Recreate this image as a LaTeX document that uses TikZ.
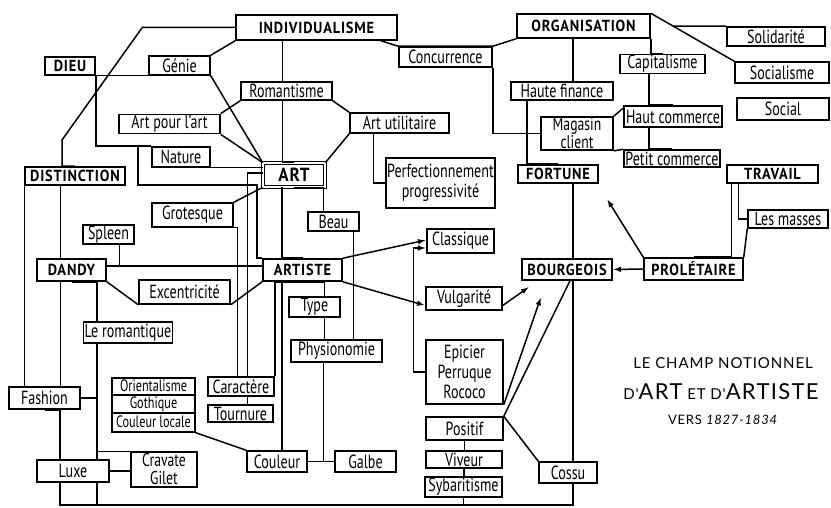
\documentclass[tikz,border=0pt]{standalone}
\usepackage{fontspec}
\setmainfont{PT Sans}[FakeStretch=0.74]
\newfontfamily\capsfont{PT Sans}[FakeStretch=0.9,LetterSpace=5,UprightFont=*,BoldFont=* Bold]
\newfontfamily\titlefont{Lato}[LetterSpace=6]
\usetikzlibrary{arrows,calc}
\tikzstyle{bx}=[draw=black,line width=1.5pt,inner sep=1pt,minimum height=19pt,
  align=center,font=\fontsize{19}{20}\selectfont]
\tikzstyle{small}=[font=\fontsize{18.5}{18}\selectfont]
\tikzstyle{stack}=[style=bx,inner ysep=0.5pt,font=\fontsize{16.5}{17}\selectfont,text height=12pt,text depth=3pt]
\tikzstyle{bigbx}=[style=bx,font=\capsfont\bfseries\fontsize{16}{16}\selectfont]
\tikzstyle{artbx}=[style=bigbx,double,double distance=1.6pt,line width=0.9pt,
  font=\capsfont\bfseries\fontsize{19}{19}\selectfont]
\tikzstyle{ttl}=[inner sep=0pt,font=\titlefont\fontsize{15}{15}\selectfont]
\tikzstyle{arw}=[-latex,shorten >=1pt]

\begin{document}
\begin{tikzpicture}[x=1pt,y=-1pt,line width=1.5pt]
		\useasboundingbox (0,0) rectangle (831,508);
		\node [style=bigbx, minimum width=161, minimum height=25] (indiv) at (316.5, 27.5) {INDIVIDUALISME};
		\node [style=bigbx, minimum width=133, minimum height=24] (org) at (583.5, 26) {ORGANISATION};
		\node [style=bx, minimum width=98] (solid) at (776, 36.5) {Solidarité};
		\node [style=bx, minimum width=94, minimum height=21] (socia) at (782, 72.5) {Socialisme};
		\node [style=bx, minimum width=92, minimum height=22] (social) at (783, 109) {Social};
		\node [style=bx, minimum width=85, minimum height=18] (capit) at (662.5, 64) {Capitalisme};
		\node [style=bx, minimum width=98, minimum height=21] (hautc) at (673, 116.5) {Haut commerce};
		\node [style=bx, minimum width=96, minimum height=17] (petitc) at (672, 158.5) {Petit commerce};
		\node [style=bx, minimum width=102, minimum height=18] (hautef) at (562, 91) {Haute finance};
		\node [style=bx, style=small, minimum width=72, minimum height=33] (magasin) at (577, 133.5) {Magasin\\client};
		\node [style=bx, minimum width=93, minimum height=20] (conc) at (445.5, 57) {Concurrence};
		\node [style=bigbx, minimum width=80, minimum height=18] (fortune) at (558, 174) {FORTUNE};
		\node [style=bigbx, minimum width=90, minimum height=21] (bourg) at (567, 269.5) {BOURGEOIS};
		\node [style=bigbx, minimum width=99, minimum height=22] (prol) at (693.5, 269) {PROLÉTAIRE};
		\node [style=bigbx, minimum width=91, minimum height=18] (travail) at (772.5, 174) {TRAVAIL};
		\node [style=bx, minimum width=80, minimum height=18] (masses) at (788, 219) {Les masses};
		\node [style=bigbx, minimum width=50, minimum height=18] (dieu) at (70, 66) {DIEU};
		\node [style=bx, minimum width=61] (genie) at (179.5, 65.5) {Génie};
		\node [style=bx, minimum width=91, minimum height=18] (roman) at (286.5, 91) {Romantisme};
		\node [style=bx, minimum width=101, minimum height=18] (artpour) at (169.5, 124) {Art pour l'art};
		\node [style=bx, minimum width=99, minimum height=20] (artutil) at (399.5, 123) {Art utilitaire};
		\node [style=bx, minimum width=58, minimum height=20] (nature) at (181, 157) {Nature};
		\node [style=artbx, minimum width=62, minimum height=24] (art) at (294, 175) {ART};
		\node [style=bx, minimum width=109, minimum height=50] (perf) at (440.5, 183) {Perfectionnement\\progressivité};
		\node [style=bigbx, minimum width=100, minimum height=18] (distinct) at (75, 176) {DISTINCTION};
		\node [style=bx, minimum width=81, minimum height=24] (grot) at (192.5, 215) {Grotesque};
		\node [style=bx, minimum width=51] (beau) at (333.5, 221.5) {Beau};
		\node [style=bx, minimum width=51] (spleen) at (108.5, 234.5) {Spleen};
		\node [style=bx, minimum width=67, minimum height=24] (classique) at (460.5, 241) {Classique};
		\node [style=bigbx, minimum width=69, minimum height=22] (dandy) at (71.5, 270) {DANDY};
		\node [style=bigbx, minimum width=79, minimum height=22] (artiste) at (302.5, 270) {ARTISTE};
		\node [style=bx, minimum width=91, minimum height=24] (excent) at (184.5, 292) {Excentricité};
		\node [style=bx, minimum width=76, minimum height=23] (vulg) at (464, 298.5) {Vulgarité};
		\node [style=bx, minimum width=51, minimum height=20] (type) at (314.5, 307) {Type};
		\node [style=bx, minimum width=80, minimum height=21] (leroman) at (128, 332.5) {Le romantique};
		\node [style=bx, minimum width=91, minimum height=22] (physio) at (336.5, 351) {Physionomie};
		\node [style=bx, minimum width=77, minimum height=64] (epicier) at (464.5, 372) {Epicier\\Perruque\\Rococo};
		\node [style=bx, minimum width=71, minimum height=22] (fashion) at (44.5, 398) {Fashion};
		\node [style=stack, minimum width=83, minimum height=17] (orient) at (153.5, 386.5) {Orientalisme};
		\node [style=stack, minimum width=83, minimum height=18] (gothique) at (153.5, 404) {Gothique};
		\node [style=stack, minimum width=83, minimum height=19] (coulloc) at (153.5, 422.5) {Couleur locale};
		\node [style=bx, minimum width=66, minimum height=19] (caract) at (241, 386.5) {Caractère};
		\node [style=bx, minimum width=65, minimum height=17] (tourn) at (240.5, 413.5) {Tournure};
		\node [style=bx, minimum width=77, minimum height=23] (positif) at (464.5, 428.5) {Positif};
		\node [style=bx, minimum width=72, minimum height=22] (luxe) at (73, 471) {Luxe};
		\node [style=bx, style=small, minimum width=66, minimum height=35] (cravate) at (164, 469.5) {Cravate\\Gilet};
		\node [style=bx, minimum width=60, minimum height=21] (couleur) at (277, 461.5) {Couleur};
		\node [style=bx, minimum width=61, minimum height=21] (galbe) at (365.5, 461.5) {Galbe};
		\node [style=bx, minimum width=76, minimum height=17] (viveur) at (464, 459.5) {Viveur};
		\node [style=bx, minimum width=77, minimum height=20] (sybar) at (463.5, 487) {Sybaritisme};
		\node [style=bx, minimum width=58, minimum height=21] (cossu) at (568, 472.5) {Cossu};
		\node [style=ttl] (t1) at (723, 363) {LE CHAMP NOTIONNEL};
		\node [style=ttl] (t2) at (721, 392) {D'{\fontsize{22}{22}\selectfont ART} ET D'{\fontsize{22}{22}\selectfont ARTISTE}};
		\node [style=ttl, font=\titlefont\fontsize{13}{13}\selectfont] (t3) at (723, 420) {VERS \textit{1827-1834}};
		\coordinate (fw) at (607, 199);
		\coordinate (ep) at (541, 297);
		\coordinate (jn) at (138, 147);
		\coordinate (jb) at (257, 185);
		\coordinate (bl) at (60, 505);
		\coordinate (br) at (573, 505);
		\coordinate (rm) at ([xshift=-31]leroman.south);
		\draw (indiv.west) -- ++(-93, 0) -- (62, 140) |- (distinct.north);
		\draw (indiv.south west) -- (genie.north east);
		\draw ([xshift=-4]roman.north) |- (indiv.south);
		\draw ([xshift=-17]indiv.south east) -- (conc.north west) -- (conc.north east) -- (org.south west);
		\draw (conc.south east) |- (magasin.west);
		\draw ([xshift=11]hautef.north) |- (org.south);
		\draw (org.south east) |- (capit.north);
		\draw ([xshift=-13.5]capit.south) |- (hautc.north);
		\draw ([xshift=-24]hautc.south) |- (petitc.north);
		\draw (org.north east) -- (socia.north west);
		\draw (solid.north west) -- ($(org.north east)!0.27!(socia.north west)$);
		\draw (magasin.north east) -- ([yshift=-3]hautc.north west);
		\draw (magasin.south east) -- (petitc.north west);
		\draw ([xshift=-35]hautef.south) |- (fortune.north);
		\draw ([xshift=6]bourg.north) |- (fortune.south);
		\draw [style=arw] (prol.west) -- (bourg.east);
		\draw [style=arw] (prol.north west) -- (fw);
		\draw ([xshift=5]travail.south west) |- (prol.north);
		\draw ([xshift=12]travail.south west) |- (masses.west);
		\draw (masses.south west) -- (prol.north east);
		\draw (dieu.south east) -- (genie.south west);
		\draw (dieu.south east) |- (nature.north west);
		\draw (jn) |- (jb) |- (artiste.north west);
		\draw (nature.south east) -- (nature.south east -| art.west);
		\draw (genie.south east) -- (art.north west);
		\draw (artpour.south east) -- (art.north west);
		\draw (roman.south west) -- (artpour.north east);
		\draw (roman.south east) -- (artutil.north west);
		\draw (artutil.south west) -- (art.north east);
		\draw ([xshift=-26]artutil.south) |- (perf.west);
		\draw ([xshift=-4]roman.south) |- (art.north);
		\draw ([xshift=-10]beau.north) |- (art.south);
		\draw ([yshift=2]art.west) -| ([xshift=40]caract.north west);
		\draw (grot.north east) -- (art.south west);
		\draw (grot.south east) -| ([xshift=30]caract.north west);
		\draw ([xshift=-12]art.south) |- (artiste.north);
		\draw ([yshift=4]dandy.east) -- ([yshift=4]artiste.west);
		\draw ([xshift=11]spleen.south) |- ([yshift=4]dandy.east);
		\draw (dandy.south east) -- (excent.south west);
		\draw (excent.south east) -- (artiste.south west);
		\draw ([xshift=-11]dandy.north) |- (distinct.south);
		\draw (distinct.south west) |- (fashion.north);
		\draw ([xshift=-11]dandy.south) |- (fashion.north);
		\draw ([xshift=-13]luxe.north) |- (fashion.south);
		\draw ([xshift=-31]leroman.north) |- (dandy.south);
		\draw (rm) |- (luxe.north);
		\draw (fashion.east) -- (fashion.east -| rm);
		\draw (cravate.north west) -- (cravate.north west -| rm);
		\draw (luxe.east) -- (luxe.east -| cravate.west);
		\draw ([xshift=-13]luxe.south) |- (br);
		\draw ([xshift=24]luxe.south) |- (bl);
		\draw (sybar.south) |- (bl);
		\draw ([xshift=5]cossu.south) |- (bl);
		\draw ([xshift=6]bourg.south) -- ([xshift=5]cossu.north);
		\draw (positif.north east) -- ([xshift=3]bourg.south);
		\draw [style=arw] (epicier.south east) -- (ep);
		\draw (positif.north east) -- (cossu.north west);
		\draw (positif.south) -- (positif.south |- viveur.north);
		\draw (viveur.south) -- (viveur.south |- sybar.north);
		\draw [style=arw] (epicier.west) -- ++(-12, 0) |- ([yshift=-7]classique.west);
		\draw [style=arw] (artiste.north east) -- ([yshift=1]classique.west);
		\draw [style=arw] (artiste.south east) -- ([yshift=-7]vulg.west);
		\draw [style=arw] ([yshift=-7]vulg.east) -- ([xshift=8,yshift=-6]bourg.south west);
		\draw ([xshift=10]type.north) |- (artiste.south);
		\draw ([xshift=10]type.south) |- (physio.north);
		\draw ([xshift=20]beau.south) |- (physio.north);
		\draw (couleur.east) -- (galbe.west);
		\draw ([xshift=-13]physio.south) |- (galbe.west);
		\draw (caract.north east) |- (artiste.south);
		\draw ([xshift=5]couleur.north) |- (artiste.south);
		\draw ([xshift=40]caract.south west) |- (tourn.north);
		\draw (coulloc.south east) -- (couleur.north west);
\end{tikzpicture}
\end{document}
